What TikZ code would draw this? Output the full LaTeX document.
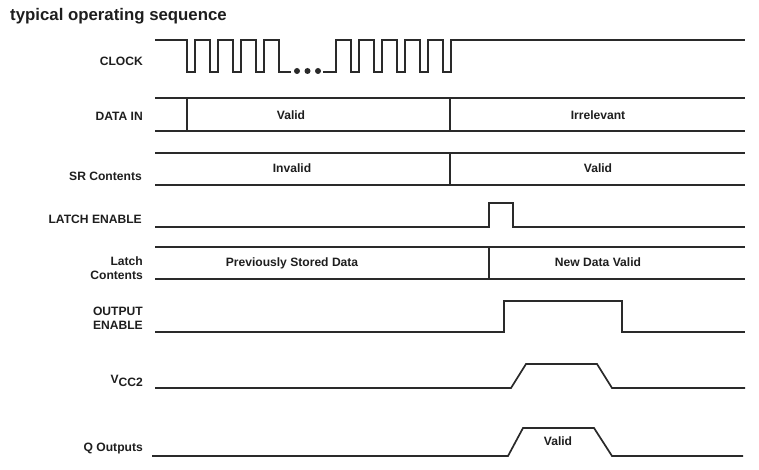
\documentclass[tikz,border=0pt]{standalone}
\usepackage{fontspec}
\setmainfont{Liberation Sans}
\definecolor{wavecol}{HTML}{2A2A2A}
\definecolor{txtcol}{HTML}{1E1E1E}
\newcommand\labfont{\fontsize{12.1}{13.5}\selectfont\bfseries}
\begin{document}
\begin{tikzpicture}[x=1pt,y=-1pt,
  wave/.style={line width=1.7pt, draw=wavecol, line join=miter},
  lab/.style={anchor=base east, inner sep=0pt, font=\labfont, text=txtcol},
  val/.style={anchor=base, inner sep=0pt, font=\labfont, text=txtcol},
  dot/.style={fill=wavecol, draw=none}]
\useasboundingbox (0,0) rectangle (759,470);
% title
\node[anchor=base west, inner sep=0pt, font=\fontsize{16.8}{19}\selectfont\bfseries, text=txtcol] (title) at (10,20.5) {typical operating sequence};
% labels
\node[lab] (lclk) at (143,65.3) {CLOCK};
\node[lab] (ldin) at (143,120.3) {DATA IN};
\node[lab] (lsr) at (142,181) {SR Contents};
\node[lab] (lle) at (142,223.3) {LATCH ENABLE};
\node[lab] (llc1) at (143,265.7) {Latch};
\node[lab] (llc2) at (143,279.3) {Contents};
\node[lab] (loe1) at (143,315.3) {OUTPUT};
\node[lab] (loe2) at (143,329.3) {ENABLE};
\node[lab] (lvcc) at (143,383) {V\raisebox{-0.3em}{CC2}};
\node[lab] (lq) at (143,451.5) {Q Outputs};
% CLOCK
\draw[wave] (155,40) -- (187,40) -- (187,72) -- (195,72) -- (195,40) -- (210,40) -- (210,72) -- (218,72) -- (218,40) -- (233,40) -- (233,72) -- (241,72) -- (241,40) -- (256,40) -- (256,72) -- (264,72) -- (264,40) -- (279,40) -- (279,72) -- (291,72);
\fill[dot] (297,71) circle (3);
\fill[dot] (307.5,71) circle (3);
\fill[dot] (318,71) circle (3);
\draw[wave] (323,72) -- (336,72) -- (336,40) -- (351,40) -- (351,72) -- (359,72) -- (359,40) -- (374,40) -- (374,72) -- (382,72) -- (382,40) -- (397,40) -- (397,72) -- (405,72) -- (405,40) -- (420,40) -- (420,72) -- (428,72) -- (428,40) -- (443,40) -- (443,72) -- (451,72) -- (451,40) -- (745,40);
% DATA IN
\draw[wave] (155,98) -- (745,98);
\draw[wave] (155,131) -- (745,131);
\draw[wave] (187,98) -- (187,131);
\draw[wave] (450,98) -- (450,131);
\node[val] (dvalid) at (291,119.9) {Valid};
\node[val] (dirr) at (598,119.9) {Irrelevant};
% SR Contents
\draw[wave] (155,153) -- (745,153);
\draw[wave] (155,185) -- (745,185);
\draw[wave] (450,153) -- (450,185);
\node[val] (sinv) at (292,172.4) {Invalid};
\node[val] (svalid) at (598,172.4) {Valid};
% LATCH ENABLE
\draw[wave] (155,227) -- (489,227) -- (489,203) -- (513,203) -- (513,227) -- (745,227);
% Latch Contents
\draw[wave] (155,247) -- (745,247);
\draw[wave] (155,279) -- (745,279);
\draw[wave] (489,247) -- (489,279);
\node[val] (lprev) at (292,266.9) {Previously Stored Data};
\node[val] (lnew) at (598,266.9) {New Data Valid};
% OUTPUT ENABLE
\draw[wave] (155,332) -- (504,332) -- (504,301) -- (622,301) -- (622,332) -- (745,332);
% VCC2
\draw[wave] (155,388) -- (511,388) -- (526,364) -- (597,364) -- (612,388) -- (745,388);
% Q Outputs
\draw[wave] (152,456) -- (508,456) -- (523,428) -- (594,428) -- (612,456) -- (743,456);
\node[val] (qvalid) at (558,445.9) {Valid};
\end{tikzpicture}
\end{document}
